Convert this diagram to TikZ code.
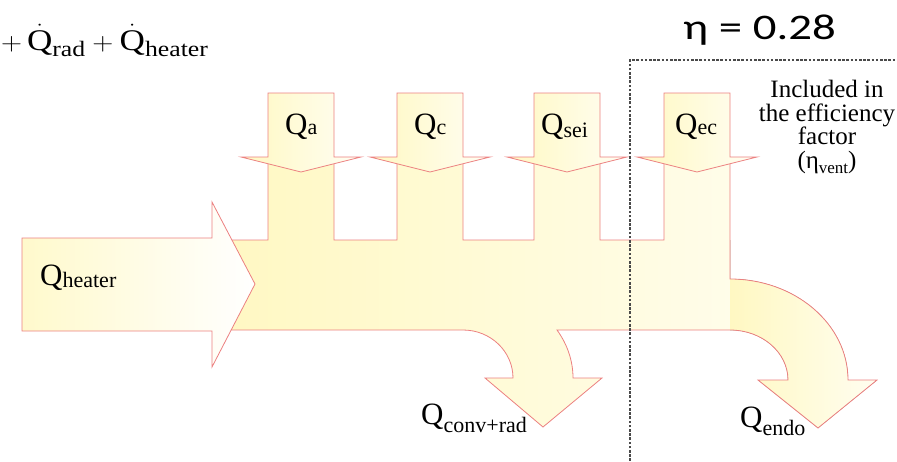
\documentclass[tikz,border=0pt]{standalone}
\usepackage{fontspec}
\setmainfont{Liberation Serif}
\newfontfamily\calfont{Carlito}
\usepackage{graphicx}

\definecolor{edgeRed}{HTML}{EC8080}
\definecolor{flowA}{HTML}{FFF8C2}
\definecolor{flowB}{HTML}{FFFEF4}
\definecolor{dashGray}{HTML}{4A4A4A}

\tikzset{
  flowline/.style={draw=edgeRed, line width=0.8pt, line join=miter},
  lbl/.style={anchor=base west, inner sep=0pt, text=black},
  boundary/.style={draw=dashGray, line width=1.1pt, dash pattern=on 2.6pt off 1.6pt},
}

% Q with a subscript set beside it, as in the flow labels
\newcommand{\flowlabel}[2]{{\fontsize{31}{31}\selectfont Q}{\fontsize{22}{22}\selectfont\raisebox{#2}{#1}}}
% subscript used in the heat-flux sum
\newcommand{\fluxsub}[1]{\hbox{\fontsize{22}{22}\selectfont #1}}

% outline of the main flow band with its side branches
\newcommand{\bandpath}{
  (212,240) -- (268,240) -- (268,160) -- (334,160) -- (334,240)
  -- (397,240) -- (397,160) -- (463,160) -- (463,240)
  -- (534,240) -- (534,160) -- (600,160) -- (600,240)
  -- (664,240) -- (664,160) -- (730,160) -- (730,279)
  arc[start angle=-90, end angle=0, x radius=118, y radius=101]
  -- (877,380) -- (818,428) -- (758,380) -- (788,380)
  arc[start angle=0, end angle=-90, x radius=58, y radius=50]
  -- (557,330)
  arc[start angle=-31.3, end angle=0, x radius=110, y radius=92.4]
  -- (602,378) -- (543,427) -- (485,378) -- (513,378)
  arc[start angle=0, end angle=-90, x radius=50, y radius=48]
  -- (212,330) -- cycle}

% downward input arrow centred on #1
\newcommand{\downarrowshape}[1]{
  (#1-33,93) -- (#1+33,93) -- (#1+33,157) -- (#1+60,157) -- (#1,172)
  -- (#1-60,157) -- (#1-33,157) -- cycle}

\begin{document}
\begin{tikzpicture}[x=1pt, y=-1pt]
\useasboundingbox (0,0) rectangle (897,461);

% main band
\path[left color=flowA, right color=flowB] \bandpath;
\begin{scope}
  \clip \bandpath;
  \fill[left color=flowA, right color=flowB] (730,240) rectangle (890,440);
\end{scope}
\path[flowline] \bandpath;

% heater input arrow
\path[flowline, left color=flowA!80!flowB, right color=white]
  (22,238) -- (212,238) -- (212,202) -- (255,284) -- (212,367)
  -- (212,331) -- (22,331) -- cycle;

% downward arrows
\foreach \c in {301,430,567,697}{
  \path[flowline, left color=flowA, right color=flowB] \downarrowshape{\c};
}

% labels
\node[lbl] (qheater) at (40,285) {\flowlabel{heater}{-2pt}};
\node[lbl] (qa)   at (285,134) {\flowlabel{a}{0pt}};
\node[lbl] (qc)   at (414,134) {\flowlabel{c}{0pt}};
\node[lbl] (qsei) at (541,134) {\flowlabel{sei}{-3pt}};
\node[lbl] (qec)  at (675,134) {\flowlabel{ec}{0pt}};
\node[lbl] (qconv) at (421,424) {\flowlabel{conv+rad}{-8pt}};
\node[lbl] (qendo) at (740,427) {\flowlabel{endo}{-8pt}};

% efficiency note
\node[anchor=base, inner sep=0pt] (inc1) at (827,97)  {\fontsize{25}{25}\selectfont Included in};
\node[anchor=base, inner sep=0pt] (inc2) at (827,121) {\fontsize{25}{25}\selectfont the efficiency};
\node[anchor=base, inner sep=0pt] (inc3) at (827,144) {\fontsize{25}{25}\selectfont factor};
\node[anchor=base, inner sep=0pt] (inc4) at (827,168)
  {\fontsize{25}{25}\selectfont (η\raisebox{-5pt}{\fontsize{17}{17}\selectfont vent})};

% system boundary
\coordinate (bTop) at (630,60);
\coordinate (bBottom) at (630,461);
\coordinate (bRight) at (897,60);
\draw[boundary] (bBottom) -- (bTop) -- (bRight);

% heat-flux sum and efficiency value
\node[lbl] (flux) at (1,50)
  {\scalebox{1.17}[1]{\fontsize{30}{30}\selectfont
   $+\,\dot{\mathrm{Q}}_{\fluxsub{rad}}+\dot{\mathrm{Q}}_{\fluxsub{heater}}$}};
\node[lbl] (eta) at (683,39)
  {\scalebox{1.3}[1]{\calfont\fontsize{36}{36}\selectfont η = 0.28}};

\end{tikzpicture}
\end{document}
